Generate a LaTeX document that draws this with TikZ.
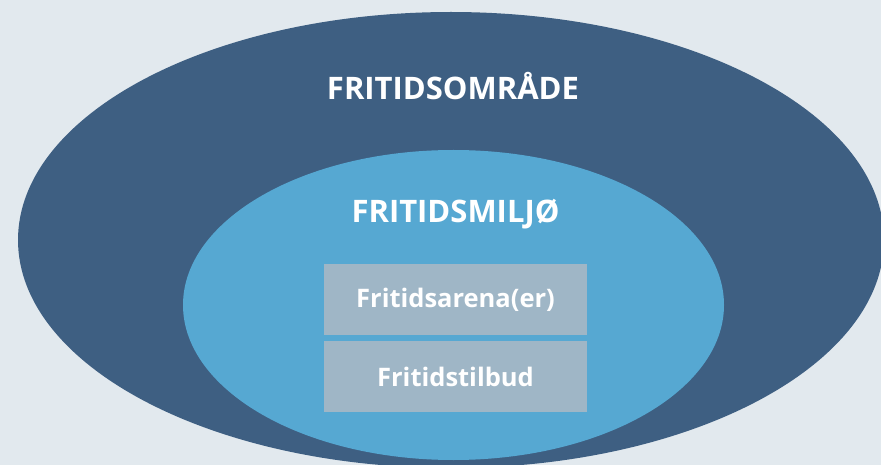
\documentclass[tikz,border=0pt]{standalone}
\usepackage{fontspec}
\setmainfont{Open Sans}
\definecolor{bgcol}{HTML}{E2E9EE}
\definecolor{omradecol}{HTML}{3E5F82}
\definecolor{miljocol}{HTML}{56A8D2}
\definecolor{boxcol}{HTML}{9FB6C6}
\begin{document}
\begin{tikzpicture}[x=1pt,y=-1pt,
  title/.style={text=white,font=\bfseries\fontsize{31}{35}\selectfont,inner sep=0pt},
  levelbox/.style={fill=boxcol,minimum width=263pt,minimum height=71pt,inner sep=0pt,
    text=white,font=\bfseries\fontsize{25.5}{29}\selectfont}]
% the page is as large as the reference, 881 by 465
\useasboundingbox (0,0) rectangle (881,465);
\fill[bgcol] (0,0) rectangle (881,465);
\clip (0,0) rectangle (881,465);
% outer area, then the environment inside it
\fill[omradecol] (451,240) ellipse (433pt and 228pt);
\fill[miljocol] (453.5,305) ellipse (270.5pt and 155pt);
% the labels of the two ellipses
\node[title] (omrade) at (453,86) {FRITIDSOMRÅDE};
\node[title] (miljo) at (455.5,214) {FRITIDSMILJØ};
% the two stacked boxes
\node[levelbox] (arena) at (455.5,299.5) {Fritidsarena(er)};
\node[levelbox] (tilbud) at (455.5,376.5) {Fritidstilbud};
\end{tikzpicture}
\end{document}
